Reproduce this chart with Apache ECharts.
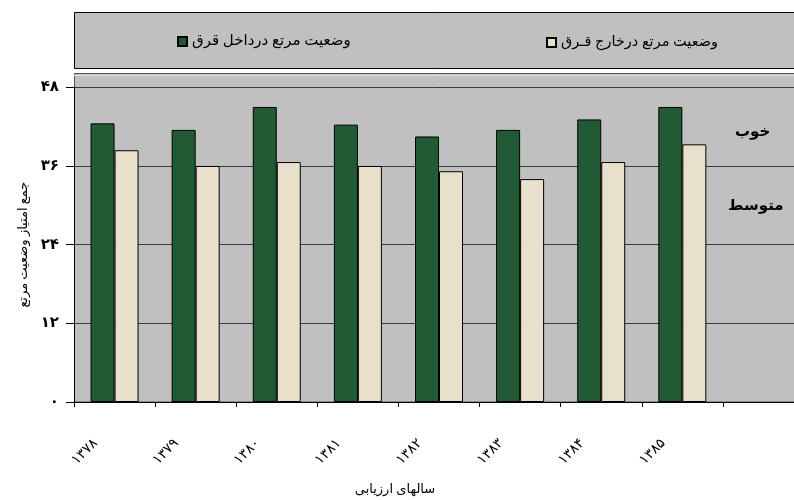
<!DOCTYPE html>
<html>
<head>
<meta charset="utf-8">
<script src="https://cdn.jsdelivr.net/npm/echarts@6/dist/echarts.min.js"></script>
<style>html,body{margin:0;padding:0;background:#fff;}#c{width:794px;height:500px;}</style>
</head>
<body>
<div id="c"></div>
<script>
var categories = ['۱۳۷۸', '۱۳۷۹', '۱۳۸۰', '۱۳۸۱', '۱۳۸۲', '۱۳۸۳', '۱۳۸۴', '۱۳۸۵', ''];
var insideValues = [42.5, 41.5, 45.0, 42.3, 40.5, 41.5, 43.1, 45.0];
var outsideValues = [38.4, 36.0, 36.6, 36.0, 35.2, 34.0, 36.6, 39.3];
var seriesNames = ['وضعیت مرتع درداخل قرق', 'وضعیت مرتع درخارج قـرق'];
var yTickLabels = { 0: '٠', 12: '۱۲', 24: '۲۴', 36: '۳۶', 48: '۴۸' };
var xAxisTitle = 'سالهای ارزیابی';
var yAxisTitle = 'جمع امتیاز وضعیت مرتع';
var zoneLabels = ['خوب', 'متوسط'];

var FONT = "'Times New Roman','Liberation Serif','DejaVu Sans',serif";
var chart = echarts.init(document.getElementById('c'), null, { renderer: 'canvas' });

var option = {
  animation: false,
  backgroundColor: '#ffffff',
  textStyle: { fontFamily: FONT },
  graphic: [
    { type: 'rect', z: -10, shape: { x: 74.5, y: 12.5, width: 740, height: 56 },
      style: { fill: '#c0c0c0', stroke: '#000', lineWidth: 1 } },
    { type: 'rect', z: -10, shape: { x: 74.5, y: 73.5, width: 740, height: 328.5 },
      style: { fill: '#c0c0c0', stroke: '#555', lineWidth: 1 } },
    { type: 'line', z: -9, shape: { x1: 74, y1: 75.5, x2: 800, y2: 75.5 },
      style: { stroke: '#e0e0e0', lineWidth: 1 } },
    { type: 'text', left: 735, top: 125, style: { text: zoneLabels[0], font: "bold 15px " + FONT, fill: '#000' } },
    { type: 'text', left: 728, top: 199, style: { text: zoneLabels[1], font: "bold 15px " + FONT, fill: '#000' } },
    { type: 'text', x: 395, y: 490, style: { text: xAxisTitle, font: "13px " + FONT, fill: '#000', align: 'center', verticalAlign: 'middle' } }
  ],
  legend: [
    { left: 172, top: 29, data: [seriesNames[0]], itemWidth: 9, itemHeight: 9, icon: 'rect',
      textStyle: { fontSize: 15, fontFamily: FONT, color: '#000' } },
    { left: 541, top: 30, data: [seriesNames[1]], itemWidth: 9, itemHeight: 9, icon: 'rect',
      textStyle: { fontSize: 14.5, fontFamily: FONT, color: '#000' } }
  ],
  grid: { left: 74, top: 87.3, width: 730, height: 314.7, containLabel: false, outerBoundsMode: 'none' },
  xAxis: {
    type: 'category',
    data: categories,
    boundaryGap: true,
    axisLine: { lineStyle: { color: '#000', width: 1 } },
    axisTick: { show: true, length: 5, lineStyle: { color: '#000' } },
    axisLabel: { rotate: 45, margin: 20, padding: [0, 27, 0, 0], fontSize: 14, color: '#000', fontFamily: FONT }
  },
  yAxis: {
    type: 'value',
    min: 0, max: 48, interval: 12,
    axisLine: { show: true, lineStyle: { color: '#000', width: 1 } },
    axisTick: { show: true, length: 8, lineStyle: { color: '#000' } },
    splitLine: { show: true, lineStyle: { color: '#3a3a3a', width: 1 } },
    axisLabel: { margin: 15, fontSize: 15, fontWeight: 'bold', color: '#000', fontFamily: FONT,
      formatter: function (v) { return yTickLabels[v] !== undefined ? yTickLabels[v] : ''; } },
    name: yAxisTitle,
    nameLocation: 'middle',
    nameGap: 44,
    nameTextStyle: { fontSize: 13, color: '#000', fontFamily: FONT }
  },
  series: [
    { name: seriesNames[0], type: 'bar', data: insideValues, barWidth: 24, barGap: '0%',
      itemStyle: { color: '#215a35', borderColor: '#000', borderWidth: 1 } },
    { name: seriesNames[1], type: 'bar', data: outsideValues, barWidth: 24, barGap: '0%',
      itemStyle: { color: '#e8e0cb', borderColor: '#000', borderWidth: 1 } }
  ]
};
chart.setOption(option);
</script>
</body>
</html>
